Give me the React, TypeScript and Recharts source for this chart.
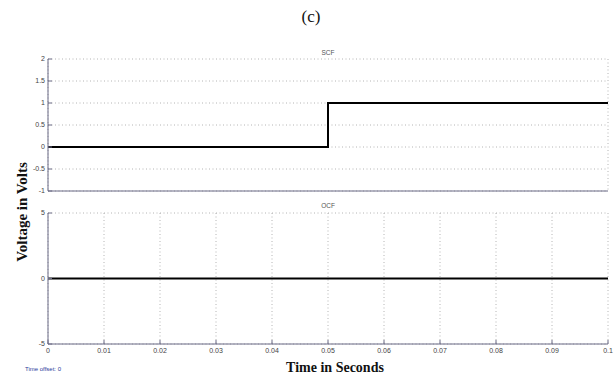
import { LineChart, Line, XAxis, YAxis, CartesianGrid } from "recharts";

const time = [0, 0.05, 0.1];
const scfVolts = [0, 1, 1];
const ocfVolts = [0, 0, 0];
const timeTicks = [0, 0.01, 0.02, 0.03, 0.04, 0.05, 0.06, 0.07, 0.08, 0.09, 0.1];
const scfTicks = [-1, -0.5, 0, 0.5, 1, 1.5, 2];
const ocfTicks = [-5, 0, 5];

const scfData = time.map((t, i) => ({ t, v: scfVolts[i] }));
const ocfData = time.map((t, i) => ({ t, v: ocfVolts[i] }));

const frame = "#6a6a86";
const tickFont = { fill: "#444", fontSize: 7, fontFamily: "Liberation Sans" };

function Panel({ data, yTicks, height, margin, xHeight, showX }: any) {
  const yDomain = [yTicks[0], yTicks[yTicks.length - 1]];
  return (
    <LineChart width={616} height={height} data={data} margin={margin}>
      <CartesianGrid stroke="#b4b4b4" strokeDasharray="1 2.5" />
      <XAxis
        dataKey="t"
        type="number"
        domain={[0, 0.1]}
        ticks={timeTicks}
        allowDataOverflow
        height={xHeight}
        tickSize={-4}
        tickMargin={8}
        axisLine={{ stroke: frame }}
        tickLine={{ stroke: frame }}
        tick={showX ? tickFont : false}
        tickFormatter={(v: number) => String(v)}
        interval={0}
      />
      <XAxis
        xAxisId="top"
        orientation="top"
        dataKey="t"
        type="number"
        domain={[0, 0.1]}
        ticks={timeTicks}
        allowDataOverflow
        height={0}
        tickSize={-4}
        axisLine={{ stroke: frame }}
        tickLine={{ stroke: frame }}
        tick={false}
        interval={0}
      />
      <YAxis
        type="number"
        domain={yDomain}
        ticks={yTicks}
        allowDataOverflow
        width={40}
        tickSize={-4}
        tickMargin={7}
        axisLine={{ stroke: frame }}
        tickLine={{ stroke: frame }}
        tick={tickFont}
        interval={0}
      />
      <YAxis
        yAxisId="right"
        orientation="right"
        type="number"
        domain={yDomain}
        ticks={yTicks}
        allowDataOverflow
        width={0}
        tickSize={-4}
        axisLine={{ stroke: frame }}
        tickLine={{ stroke: frame }}
        tick={false}
        interval={0}
      />
      <Line
        type="stepAfter"
        dataKey="v"
        stroke="#000"
        strokeWidth={2}
        dot={false}
        isAnimationActive={false}
      />
    </LineChart>
  );
}

export default function App() {
  return (
    <div style={{ position: "absolute", left: 0, top: 0, width: 616, height: 375, background: "#fff" }}>
      <div style={{ position: "absolute", left: 0, top: 0 }}>
        <Panel
          data={scfData}
          yTicks={scfTicks}
          height={200}
          margin={{ top: 59, right: 8, bottom: 0, left: 8 }}
          xHeight={9}
          showX={false}
        />
      </div>
      <div style={{ position: "absolute", left: 0, top: 200 }}>
        <Panel
          data={ocfData}
          yTicks={ocfTicks}
          height={175}
          margin={{ top: 13, right: 8, bottom: 0, left: 8 }}
          xHeight={31}
          showX={true}
        />
      </div>
      <svg width={616} height={375} style={{ position: "absolute", left: 0, top: 0, pointerEvents: "none" }}>
        <text x={311} y={22} textAnchor="middle" fontFamily="Liberation Serif" fontSize={17} fill="#111">
          (c)
        </text>
        <text x={328} y={55} textAnchor="middle" fontFamily="Liberation Sans" fontSize={6.5} fill="#555">
          SCF
        </text>
        <text x={328} y={208} textAnchor="middle" fontFamily="Liberation Sans" fontSize={6.5} fill="#555">
          OCF
        </text>
        <text
          x={22}
          y={212}
          transform="rotate(-90 22 212)"
          textAnchor="middle"
          dominantBaseline="central"
          fontFamily="Liberation Serif"
          fontWeight="bold"
          fontSize={15}
          fill="#111"
        >
          Voltage in Volts
        </text>
        <text x={335} y={372} textAnchor="middle" fontFamily="Liberation Serif" fontWeight="bold" fontSize={14} fill="#111">
          Time in Seconds
        </text>
        <text x={25} y={371} fontFamily="Liberation Sans" fontSize={6} fill="#2a3a9a">
          Time offset:  0
        </text>
      </svg>
    </div>
  );
}
